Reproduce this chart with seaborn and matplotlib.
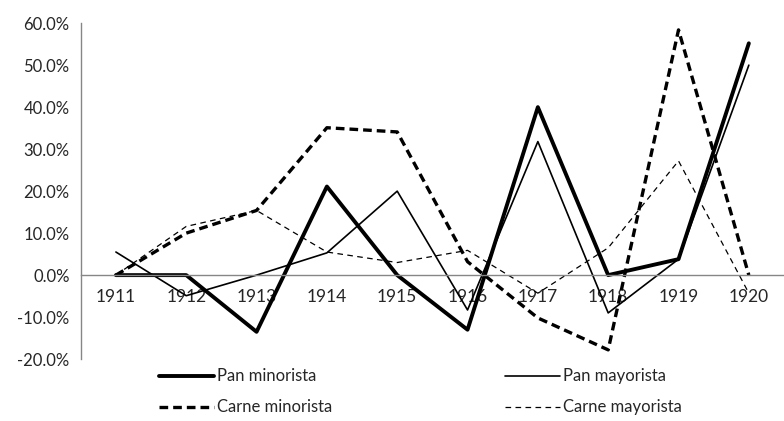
import numpy as np
import pandas as pd
import matplotlib
matplotlib.use("Agg")
import matplotlib.pyplot as plt
import seaborn as sns
from matplotlib.ticker import FixedLocator, FuncFormatter

years = ["1911", "1912", "1913", "1914", "1915", "1916", "1917", "1918", "1919", "1920"]
pan_minorista = [0.0, 0.0, -13.5, 21.1, 0.0, -13.0, 40.0, 0.0, 3.8, 55.2]
pan_mayorista = [5.5, -4.9, 0.0, 5.3, 20.0, -8.3, 31.8, -9.0, 3.8, 50.0]
carne_minorista = [0.0, 10.0, 15.4, 35.1, 34.1, 3.2, -10.2, -17.8, 58.4, 0.0]
carne_mayorista = [0.0, 11.6, 15.4, 5.5, 3.0, 5.9, -4.3, 6.5, 27.2, -4.3]

sns.set_style("white")
plt.rcParams['font.family'] = ['Lato', 'DejaVu Sans']
plt.rcParams['text.color'] = '#262626'

fig = plt.figure(figsize=(7.84, 4.21), dpi=100)
ax = fig.add_axes([0.103, 0.147, 0.897, 0.798])

series = [
    ("Pan minorista", pan_minorista, 2.8, None),
    ("Pan mayorista", pan_mayorista, 1.2, None),
    ("Carne minorista", carne_minorista, 2.4, (2.6, 1.5)),
    ("Carne mayorista", carne_mayorista, 0.9, (4.5, 3.5)),
]
for name, vals, lw, dash in series:
    df = pd.DataFrame({"year": years, "value": vals})
    sns.lineplot(data=df, x="year", y="value", ax=ax, color="black",
                 linewidth=lw, label=name)
    line = ax.get_lines()[-1]
    if dash is not None:
        line.set_dashes(dash)

ax.set_xlim(-0.5, 9.5)
ax.set_ylim(-20, 60)
ax.set_yticks(np.arange(-20, 61, 10))
ax.yaxis.set_major_formatter(FuncFormatter(lambda v, p: f"{v:.1f}%"))
ax.set_xlabel("")
ax.set_ylabel("")

for s in ["top", "right"]:
    ax.spines[s].set_visible(False)
ax.spines["bottom"].set_position(("data", 0))
ax.spines["bottom"].set_color("#868686")
ax.spines["left"].set_color("#868686")
ax.spines["bottom"].set_linewidth(1.0)
ax.spines["left"].set_linewidth(1.0)

ax.xaxis.set_minor_locator(FixedLocator(np.arange(0.5, 9.5, 1.0)))
ax.tick_params(axis="x", which="major", length=0, pad=10, labelsize=12.5)
ax.tick_params(axis="x", which="minor", length=5, color="#868686", direction="out")
ax.tick_params(axis="y", which="major", length=5, color="#868686", direction="out",
               labelsize=12, pad=3)
ax.grid(False)

# legend filled row by row: reorder for matplotlib's column-major layout
handles, labels = ax.get_legend_handles_labels()
order = [0, 2, 1, 3]
ax.legend([handles[i] for i in order], [labels[i] for i in order],
          ncol=2, loc="upper left", bbox_to_anchor=(0.203, 0.125),
          bbox_transform=fig.transFigure, frameon=False, fontsize=12,
          handlelength=3.3, handletextpad=0.15, columnspacing=10.4,
          labelspacing=0.9, borderpad=0, borderaxespad=0)

fig.savefig("out.png", dpi=100)
